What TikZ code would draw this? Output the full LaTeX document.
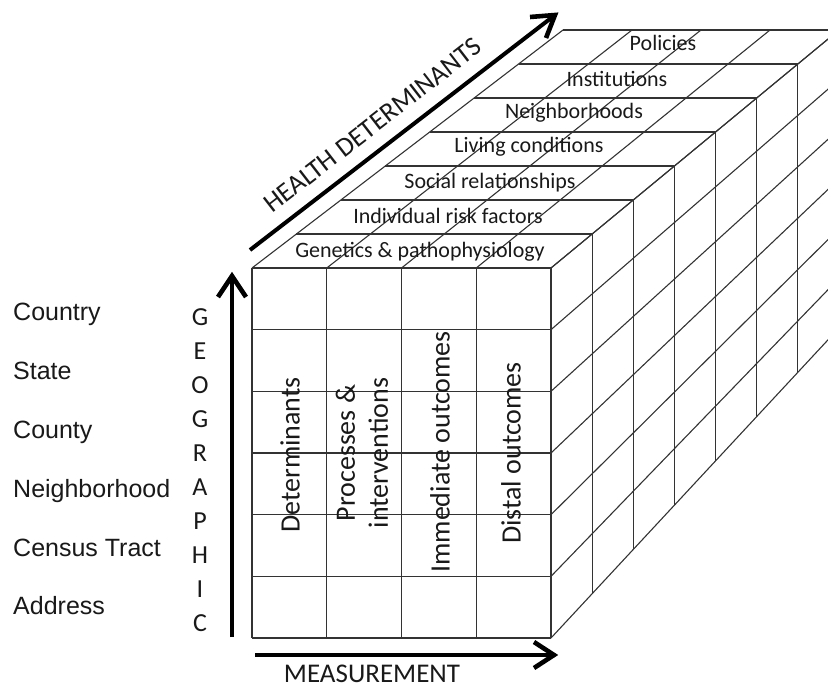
\documentclass[tikz,border=0pt]{standalone}
\usepackage{fontspec}
\setmainfont{Carlito}
\newfontfamily\arialf{Liberation Sans}
\begin{document}
\begin{tikzpicture}[x=1pt,y=-1pt,
  gridline/.style={line width=1.1pt, draw=black!80},
  shaft/.style={line width=4pt, line cap=butt},
  chevron/.style={line width=4.6pt, line join=miter, line cap=butt},
  toplabel/.style={font=\fontsize{22}{26}\selectfont, anchor=base, inner sep=0pt, text=black!90},
  leftlabel/.style={font=\arialf\fontsize{25}{30}\selectfont, anchor=base west, inner sep=0pt, text=black!90},
  geoletter/.style={font=\fontsize{26}{30}\selectfont, anchor=base, inner sep=0pt, text=black!90},
  vlabel/.style={font=\fontsize{28}{33}\selectfont, rotate=90, inner sep=0pt, align=center, text=black!90},
  axislabel/.style={font=\fontsize{27}{32}\selectfont, anchor=base, inner sep=0pt, text=black!90}]
\useasboundingbox (0,0) rectangle (828,688);
\clip (0,0) rectangle (828,688);

% front face
\foreach \i in {0,...,4}
  \draw[gridline] ({252+74.75*\i},268) -- ({252+74.75*\i},638);
\foreach \j in {0,...,6}
  \draw[gridline] (252,{268+370/6*\j}) -- (551,{268+370/6*\j});

% top face
\foreach \k in {1,...,7}
  \draw[gridline] ({252+44.43*\k},{268-34*\k}) -- ({551+41.14*\k},{268-34*\k});
\foreach \i in {0,...,4}
  \draw[gridline] ({252+74.75*\i},268) -- ({563+69*\i},30);

% right face
\foreach \k in {1,...,7}
  \draw[gridline] ({551+41.14*\k},{268-34*\k}) -- ({551+41.14*\k},{638-44.29*\k});
\foreach \j in {0,...,6}
  \draw[gridline] (551,{268+370/6*\j}) -- (839,{30+298/6*\j});

% top labels
\node[toplabel] (gen) at (420,257) {Genetics \& pathophysiology};
\node[toplabel] (ind) at (448,223) {Individual risk factors};
\node[toplabel] (soc) at (490,188) {Social relationships};
\node[toplabel] (liv) at (529,152) {Living conditions};
\node[toplabel] (nei) at (574,118) {Neighborhoods};
\node[toplabel] (ins) at (617,86) {Institutions};
\node[toplabel] (pol) at (663,50) {Policies};

% front labels
\node[vlabel] (det) at (290,455) {Determinants};
\node[vlabel] (proc) at (362,453) {Processes \&\\interventions};
\node[vlabel] (imm) at (440,452) {Immediate outcomes};
\node[vlabel] (dis) at (511,453) {Distal outcomes};

% left labels
\node[leftlabel] (country) at (13,320) {Country};
\node[leftlabel] (state) at (13,379) {State};
\node[leftlabel] (county) at (13,438) {County};
\node[leftlabel] (nbh) at (13,497) {Neighborhood};
\node[leftlabel] (tract) at (13,556) {Census Tract};
\node[leftlabel] (addr) at (13,614) {Address};

% GEOGRAPHIC
\foreach \c [count=\n from 0] in {G,E,O,G,R,A,P,H,I,C}
  \node[geoletter] (geo\n) at (200,{325+34.1*\n}) {\c};

% geographic axis
\coordinate (gA) at (232,637);
\coordinate (gB) at (232,276);
\coordinate (gL) at (218,297);
\coordinate (gR) at (246,297);
\draw[shaft] (gA) -- (gB);
\draw[chevron] (gL) -- (gB) -- (gR);

% measurement axis
\coordinate (mA) at (255,655);
\coordinate (mB) at (554,655);
\coordinate (mL) at (534,642);
\coordinate (mR) at (534,668);
\draw[shaft] (mA) -- (mB);
\draw[chevron] (mL) -- (mB) -- (mR);

% health determinants axis
\coordinate (hA) at (250,250);
\coordinate (hB) at (555,15);
\coordinate (hL) at (530,17);
\coordinate (hR) at (546,38);
\draw[shaft] (hA) -- (hB);
\draw[chevron] (hL) -- (hB) -- (hR);

\node[axislabel] (meas) at (372,682) {MEASUREMENT};
\node[axislabel, rotate=37.7] (hd) at (378,132) {HEALTH DETERMINANTS};
\end{tikzpicture}
\end{document}
